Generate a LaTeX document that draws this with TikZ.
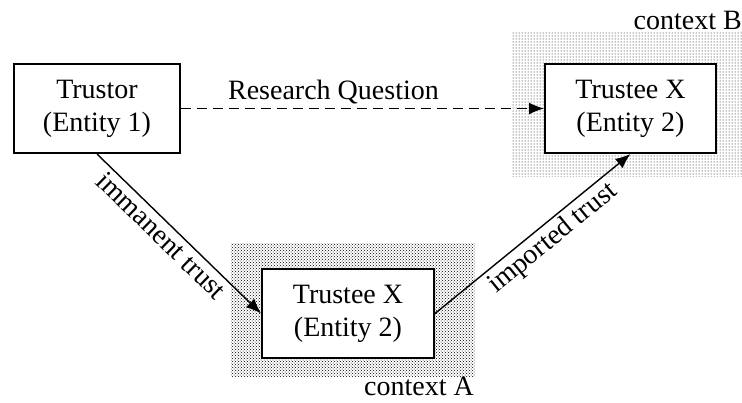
\documentclass[tikz,border=0pt]{standalone}
\usepackage{fontspec}
\setmainfont{Liberation Serif}
\usetikzlibrary{arrows.meta, positioning, patterns, backgrounds}

\begin{document}
\begin{tikzpicture}[>={Latex[length=15pt,width=12pt]}, font=\fontsize{28}{33}\selectfont,
  entity/.style={align=center, rectangle, draw, fill=white, line width=2pt, minimum height=89pt},
  link/.style={->, line width=1.4pt},
  ctxB/.style={pattern=dots, pattern color=black},
  ctxA/.style={pattern=crosshatch dots, pattern color=black}]
\useasboundingbox (0,0) rectangle (742pt,-402pt);
\node [entity, minimum width=166pt] (trustor) at (97pt,-108.5pt) {Trustor\\(Entity 1)};
\node [entity, minimum width=171pt, right=363pt of trustor] (trusteeB) {Trustee X\\(Entity 2)};
\node [entity, minimum width=172pt, below right=114pt and 80pt of trustor] (trusteeA) {Trustee X\\(Entity 2)};
% contexts
\begin{scope}[on background layer]
\coordinate (ctxBnw) at ([shift={(-33pt,32pt)}]trusteeB.north west);
\coordinate (ctxBse) at ([shift={(26pt,-22pt)}]trusteeB.south east);
\fill [ctxB] (ctxBnw) rectangle (ctxBse);
\coordinate (ctxAnw) at ([shift={(-30pt,25pt)}]trusteeA.north west);
\coordinate (ctxAse) at ([shift={(40pt,-17pt)}]trusteeA.south east);
\fill [ctxA] (ctxAnw) rectangle (ctxAse);
\end{scope}
\node [anchor=south east, inner sep=1pt] (labB) at (ctxBse |- ctxBnw) {context B};
\node [anchor=north east, inner sep=1pt] (labA) at (ctxAse) {context A};
% arrows
\draw [link, dashed, dash pattern=on 10pt off 6pt] (trustor) -- node [above, pos=0.42] {Research Question} (trusteeB);
\draw [link] (trustor.south) -- node [below, sloped, pos=0.45] {immanent trust} (trusteeA.west);
\draw [link] (trusteeA.east) -- node [below, sloped, pos=0.55] {imported trust} (trusteeB.south);
\end{tikzpicture}
\end{document}
